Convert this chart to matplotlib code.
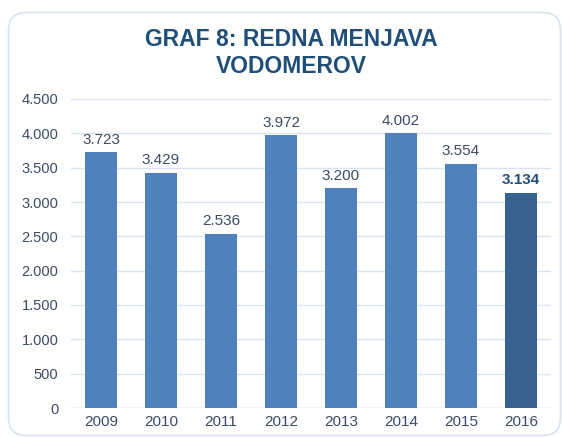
import matplotlib
matplotlib.use("Agg")
import matplotlib.pyplot as plt
from matplotlib.patches import FancyBboxPatch

plt.rcParams["font.family"] = ["Liberation Sans", "DejaVu Sans"]

# podatki
years = ["2009", "2010", "2011", "2012", "2013", "2014", "2015", "2016"]
counts = [3723, 3429, 2536, 3972, 3200, 4002, 3554, 3134]
yticks = [0, 500, 1000, 1500, 2000, 2500, 3000, 3500, 4000, 4500]

BAR = "#4F81BD"
BAR_LAST = "#37618F"
TXT = "#3B4A66"
TITLE = "#1F4E79"
GRID = "#D9E4F1"


def fmt(v):
    return "{:,}".format(v).replace(",", ".")


W, H = 562, 437
fig = plt.figure(figsize=(W / 100, H / 100), dpi=100)
fig.patch.set_facecolor("white")

# okvir z zaobljenimi robovi (v pikslih)
frame = FancyBboxPatch((8.5, 1.5), W - 10, H - 14,
                       boxstyle="round,pad=0,rounding_size=18",
                       transform=None, facecolor="none",
                       edgecolor="#D6E3F2", linewidth=1.2, zorder=0)
fig.patches.append(frame)

ax = fig.add_axes([71 / W, 1 - 408 / H, (551 - 71) / W, (408 - 99) / H])
x = range(len(years))
colors = [BAR] * (len(years) - 1) + [BAR_LAST]
ax.bar(x, counts, width=0.52, color=colors, zorder=3)

for i, v in enumerate(counts):
    last = i == len(counts) - 1
    ax.text(i, v + 80, fmt(v), ha="center", va="bottom", fontsize=11,
            color=TITLE if last else TXT, fontweight="bold" if last else "normal")

ax.set_xlim(-0.5, len(years) - 0.5)
ax.set_ylim(0, 4500)
ax.set_yticks(yticks)
ax.set_yticklabels([fmt(t) for t in yticks])
ax.set_xticks(list(x))
ax.set_xticklabels(years)
ax.tick_params(axis="both", length=0, labelcolor=TXT)
ax.tick_params(axis="y", pad=9, labelsize=10.5)
ax.tick_params(axis="x", pad=5, labelsize=11)
ax.yaxis.grid(True, color=GRID, linewidth=1.0, zorder=0)
for s in ax.spines.values():
    s.set_visible(False)
ax.axhline(0, color=GRID, linewidth=1.0, zorder=1)

fig.text(291 / W, 1 - 53 / H, "GRAF 8: REDNA MENJAVA\nVODOMEROV", ha="center",
         va="center", fontsize=16.5, fontweight="bold", color=TITLE, linespacing=1.2)

fig.savefig("out.png", dpi=100, facecolor="white")
